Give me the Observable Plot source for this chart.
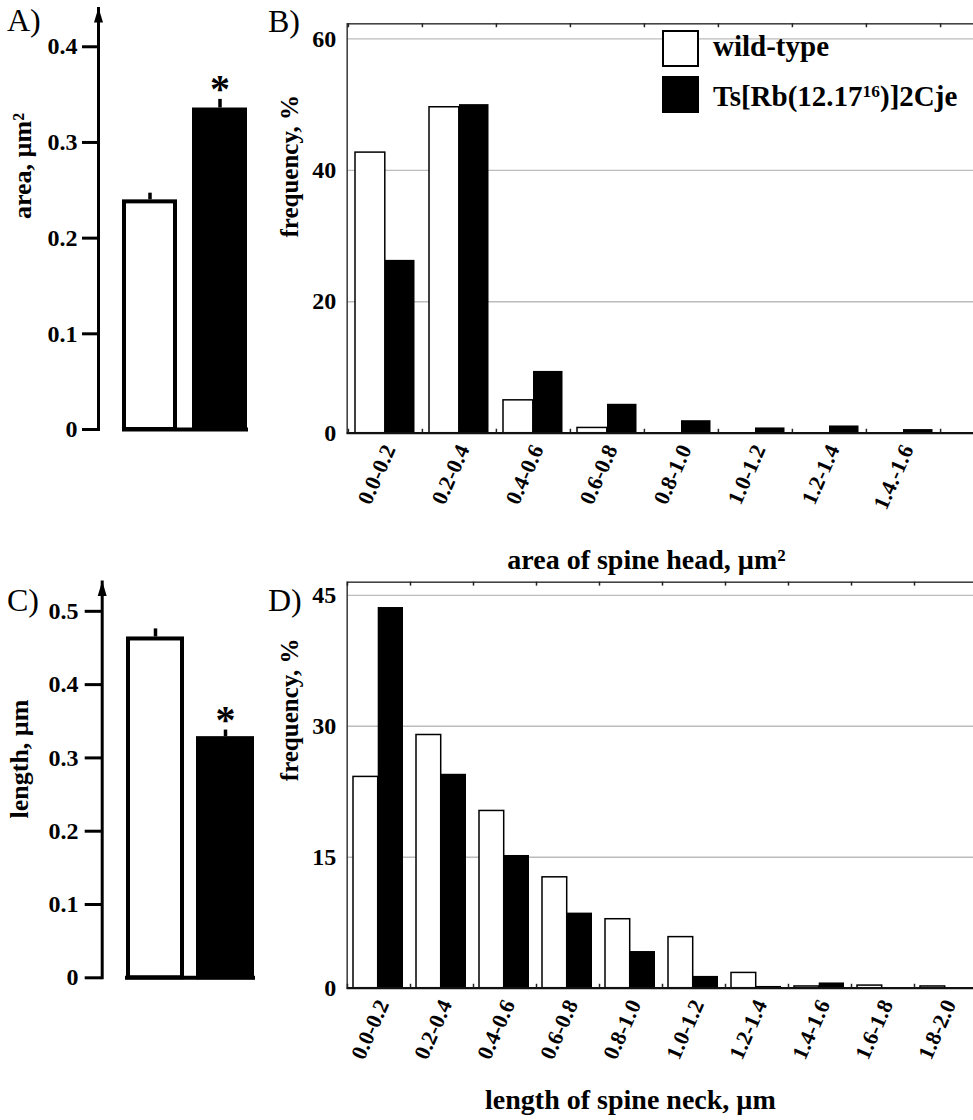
<!DOCTYPE html>
<html>
<head>
<meta charset="utf-8">
<script src="https://cdn.jsdelivr.net/npm/d3@7"></script>
<script src="https://cdn.jsdelivr.net/npm/@observablehq/plot@0.6"></script>
<style>
  html, body { margin: 0; padding: 0; background: #fff; overflow: hidden; }
  #fig { position: relative; width: 973px; height: 1120px; overflow: hidden; font-family: "Liberation Serif", "Times New Roman", serif; color: #000; }
  .letter { position: absolute; font-size: 32px; line-height: 32px; }
  .leg-box { position: absolute; box-sizing: border-box; border: 2px solid #000; }
  .leg-text { position: absolute; font-size: 29px; font-weight: bold; line-height: 29px; white-space: nowrap; }
  .leg-text sup { font-size: 0.6em; vertical-align: 0.5em; line-height: 0; }
</style>
</head>
<body>
<div id="fig"></div>
<script>
// ---------- data ----------
const genotypes = ["wild-type", "Ts[Rb(12.17¹⁶)]2Cje"];

// A) spine head area (mean, SEM), µm²
const headAreaMean = [0.240, 0.336];
const headAreaSem = [0.007, 0.009];
const headAreaSig = ["", "*"];
const headAreaTicks = [0, 0.1, 0.2, 0.3, 0.4];

// C) spine neck length (mean, SEM), µm
const neckLengthMean = [0.465, 0.329];
const neckLengthSem = [0.011, 0.009];
const neckLengthSig = ["", "*"];
const neckLengthTicks = [0, 0.1, 0.2, 0.3, 0.4, 0.5];

// B) distribution of spine head area, %
const areaBins = ["0.0-0.2", "0.2-0.4", "0.4-0.6", "0.6-0.8", "0.8-1.0", "1.0-1.2", "1.2-1.4", "1.4.-1.6"];
const areaFreqWT = [42.7, 49.6, 5.0, 0.8, 0, 0, 0, 0];
const areaFreqTs = [26.3, 50.0, 9.4, 4.4, 1.9, 0.8, 1.1, 0.55];
const areaFreqTicks = [0, 20, 40, 60];

// D) distribution of spine neck length, %
const neckBins = ["0.0-0.2", "0.2-0.4", "0.4-0.6", "0.6-0.8", "0.8-1.0", "1.0-1.2", "1.2-1.4", "1.4-1.6", "1.6-1.8", "1.8-2.0"];
const neckFreqWT = [24.2, 29.0, 20.3, 12.7, 7.9, 5.85, 1.75, 0.2, 0.3, 0.2];
const neckFreqTs = [43.6, 24.5, 15.2, 8.6, 4.2, 1.35, 0.2, 0.6, 0, 0];
const neckFreqTicks = [0, 15, 30, 45];

// ---------- helpers ----------
const serif = '"Liberation Serif", "Times New Roman", serif';
const fig = document.getElementById("fig");

function place(el, left, top) {
  el.style.position = "absolute";
  el.style.left = left + "px";
  el.style.top = top + "px";
  el.style.maxWidth = "none";
  fig.appendChild(el);
}

const arrowHead = {
  draw(context) {
    context.moveTo(0, -1);
    context.lineTo(4.5, 14);
    context.lineTo(-4.5, 14);
    context.closePath();
  }
};

function barPanel(o) {
  const rows = genotypes.map((g, i) => ({g, mean: o.means[i], sem: o.sems[i], sig: o.sig[i]}));
  return Plot.plot({
    width: o.width, height: o.height,
    marginLeft: o.mLeft, marginRight: o.width - o.xRange[1], marginTop: o.mTop, marginBottom: o.mBottom,
    style: {fontFamily: serif, background: "transparent", overflow: "visible", color: "black"},
    x: {type: "band", domain: genotypes, range: o.xRange, paddingInner: o.padInner, paddingOuter: 0, axis: null},
    y: {domain: [0, o.yMax], axis: null},
    color: {domain: genotypes, range: ["white", "black"]},
    marks: [
      Plot.frame({anchor: "left", stroke: "black", strokeWidth: 3}),
      Plot.dot([0], {frameAnchor: "top-left", symbol: arrowHead, fill: "black", stroke: "none"}),
      Plot.axisY({
        ticks: o.ticks, tickSize: o.tickSize, tickPadding: o.tickPadding,
        tickFormat: d => d === 0 ? "0" : d3.format(".1f")(d),
        fontSize: 24, fontWeight: "bold", strokeWidth: 3, label: null
      }),
      Plot.barY(rows, {x: "g", y: "mean", fill: "g", stroke: "black", strokeWidth: 4, insetLeft: 2, insetRight: 2, insetTop: 2}),
      Plot.ruleY([0], {insetLeft: o.ruleInset, stroke: "black", strokeWidth: 4}),
      Plot.ruleX(rows, {x: "g", y1: "mean", y2: d => d.mean + d.sem, stroke: "black", strokeWidth: 3.5}),
      Plot.text(rows, {x: "g", y: d => d.mean + d.sem, text: "sig", fontSize: 40, fontWeight: "bold", dy: -10}),
      Plot.text([o.label], {text: d => d, frameAnchor: "left", rotate: -90, dx: o.labelDx, dy: o.labelDy, fontSize: 26, fontWeight: "bold"})
    ]
  });
}

function histPanel(o) {
  const rows = o.bins.map((b, i) => ({bin: b, wt: o.wt[i], ts: o.ts[i]}));
  const x0 = 96.7;
  const last = o.bins.slice(-1);
  return Plot.plot({
    width: 730, height: o.height,
    marginLeft: x0, marginRight: 0, marginTop: o.mTop, marginBottom: o.mBottom,
    style: {fontFamily: serif, background: "transparent", overflow: "visible", color: "black"},
    x: {type: "band", domain: o.bins, range: [x0, x0 + o.bandW * o.bins.length], padding: 0, axis: null},
    y: {domain: [0, o.yMax], axis: null},
    marks: [
      Plot.ruleY(o.yTicks.filter(d => d > 0), {stroke: "#bcbcbc", strokeWidth: 1.3}),
      Plot.frame({stroke: "#444", strokeWidth: 1.6}),
      Plot.barY(rows.filter(d => d.wt > 0), {x: "bin", y: "wt", fill: "white", stroke: "black", strokeWidth: 1.5, insetLeft: o.wtInset[0], insetRight: o.wtInset[1]}),
      Plot.barY(rows.filter(d => d.ts > 0), {x: "bin", y: "ts", fill: "black", insetLeft: o.tsInset[0], insetRight: o.tsInset[1]}),
      Plot.ruleY([0], {stroke: "#111", strokeWidth: 2.2}),
      Plot.ruleX(o.bins, {x: d => d, y1: 0, y2: o.tickLen, dx: -o.bandW / 2, stroke: "#222", strokeWidth: 1.5}),
      Plot.ruleX(o.bins, {x: d => d, y1: o.yMax - o.tickLen, y2: o.yMax, dx: -o.bandW / 2, stroke: "#222", strokeWidth: 1.5}),
      Plot.ruleX(last, {x: d => d, y1: 0, y2: o.tickLen, dx: o.bandW / 2, stroke: "#222", strokeWidth: 1.5}),
      Plot.ruleX(last, {x: d => d, y1: o.yMax - o.tickLen, y2: o.yMax, dx: o.bandW / 2, stroke: "#222", strokeWidth: 1.5}),
      Plot.axisY({ticks: o.yTicks, tickSize: 0, tickPadding: 11, fontSize: 24, fontWeight: "bold", label: null}),
      Plot.text(o.bins, {x: d => d, y: () => 0, text: d => d, rotate: -66, textAnchor: "end", lineAnchor: "middle", dx: 4, dy: 13, fontSize: 22, fontWeight: "bold"}),
      Plot.text([o.xLabel], {text: d => d, frameAnchor: "bottom", lineAnchor: "bottom", dx: o.xLabelDx, dy: o.xLabelDy, fontSize: 28, fontWeight: "bold"}),
      Plot.text(["frequency, %"], {text: d => d, frameAnchor: "left", rotate: -90, dx: -57.7, dy: o.yLabelDy, fontSize: 25, fontWeight: "bold"})
    ]
  });
}

// ---------- panels ----------
place(barPanel({
  means: headAreaMean, sems: headAreaSem, sig: headAreaSig, ticks: headAreaTicks, yMax: 0.44,
  label: "area, µm²", width: 260, height: 450, mLeft: 98, mTop: 8, mBottom: 21,
  xRange: [122, 248], padInner: 0.213, ruleInset: 24, tickSize: 16, tickPadding: 5,
  labelDx: -75.5, labelDy: 0
}), 0, 0);

place(barPanel({
  means: neckLengthMean, sems: neckLengthSem, sig: neckLengthSig, ticks: neckLengthTicks, yMax: 0.54,
  label: "length, µm", width: 270, height: 440, mLeft: 101.7, mTop: 21.5, mBottom: 22.7,
  xRange: [125, 255], padInner: 0.165, ruleInset: 23.3, tickSize: 17, tickPadding: 6.7,
  labelDx: -82.7, labelDy: 38.6
}), 0, 560);

place(histPanel({
  bins: areaBins, wt: areaFreqWT, ts: areaFreqTs, yTicks: areaFreqTicks, yMax: 62.3,
  height: 590, mTop: 23.3, mBottom: 157.3, bandW: 74.2,
  wtInset: [7, 37.2], tsInset: [37, 7.5], tickLen: 0.6,
  xLabel: "area of spine head, µm²", xLabelDx: -17.4, xLabelDy: 135.3, yLabelDy: 9
}), 250, 0);

place(histPanel({
  bins: neckBins, wt: neckFreqWT, ts: neckFreqTs, yTicks: neckFreqTicks, yMax: 46.5,
  height: 560, mTop: 21.7, mBottom: 132.3, bandW: 63,
  wtInset: [6, 32.3], tsInset: [30.7, 7], tickLen: 0.45,
  xLabel: "length of spine neck, µm", xLabelDx: -33.4, xLabelDy: 120.3, yLabelDy: -4
}), 250, 560);

// ---------- panel letters ----------
[["A)", 7, 4], ["B)", 268, 5], ["C)", 7, 584], ["D)", 268, 584]].forEach(([t, l, tp]) => {
  const d = document.createElement("div");
  d.className = "letter";
  d.textContent = t;
  d.style.left = l + "px";
  d.style.top = tp + "px";
  fig.appendChild(d);
});

// ---------- legend (panel B) ----------
const legendFills = ["#fff", "#000"];
genotypes.forEach((g, i) => {
  const box = document.createElement("div");
  box.className = "leg-box";
  box.style.left = "662px";
  box.style.top = (30 + i * 46) + "px";
  box.style.width = "37px";
  box.style.height = "37px";
  box.style.background = legendFills[i];
  fig.appendChild(box);
  const t = document.createElement("div");
  t.className = "leg-text";
  t.style.left = "713px";
  t.style.top = (32 + i * 50) + "px";
  if (g.includes("¹⁶")) {
    const [a, b] = g.split("¹⁶");
    t.append(a);
    const s = document.createElement("sup");
    s.textContent = "16";
    t.append(s);
    t.append(b);
  } else {
    t.textContent = g;
  }
  fig.appendChild(t);
});
</script>
</body>
</html>
